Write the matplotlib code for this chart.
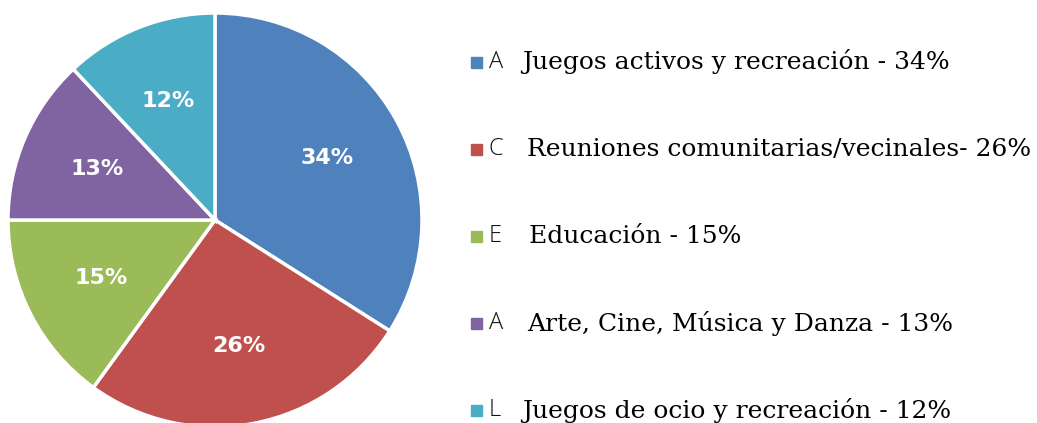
import matplotlib
matplotlib.use("Agg")
import matplotlib.pyplot as plt
from matplotlib.patches import Rectangle

values = [34, 26, 15, 13, 12]
colors = ["#4F81BD", "#C0504D", "#9BBB59", "#8064A2", "#4BACC6"]
letters = ["A", "C", "E", "A", "L"]
labels = [
    "Juegos activos y recreación - 34%",
    "Reuniones comunitarias/vecinales- 26%",
    "Educación - 15%",
    "Arte, Cine, Música y Danza - 13%",
    "Juegos de ocio y recreación - 12%",
]
text_x = [522, 527, 529, 527, 522]

W, H = 1037, 423
fig = plt.figure(figsize=(W / 100, H / 100), dpi=100)

# pie: centre (215, 220) px, radius 207 px
cx, cy, r = 215, 220, 207
ax = fig.add_axes([(cx - r) / W, (H - cy - r) / H, 2 * r / W, 2 * r / H])
ax.pie(values, colors=colors, startangle=90, counterclock=False,
       radius=1, pctdistance=0.62,
       autopct=lambda p: f"{round(p)}%",
       wedgeprops=dict(edgecolor="white", linewidth=2.5),
       textprops=dict(color="white", fontsize=16, fontweight="bold",
                      family="DejaVu Sans"))
ax.set_xlim(-1, 1)
ax.set_ylim(-1, 1)
ax.set_aspect("equal")
ax.axis("off")

# legend
y0, dy = 62, 87
for i, (c, let, lab) in enumerate(zip(colors, letters, labels)):
    y = y0 + i * dy
    fig.patches.append(Rectangle((471 / W, (H - y - 6) / H), 11 / W, 11 / H,
                                 transform=fig.transFigure, color=c))
    fig.text(489 / W, (H - y) / H, let, fontsize=17, family="Open Sans",
             color="#111111", va="center", fontweight="light")
    fig.text(text_x[i] / W, (H - y) / H, lab, fontsize=18, family="DejaVu Serif",
             color="black", va="center")

fig.savefig("out.png", dpi=100)
